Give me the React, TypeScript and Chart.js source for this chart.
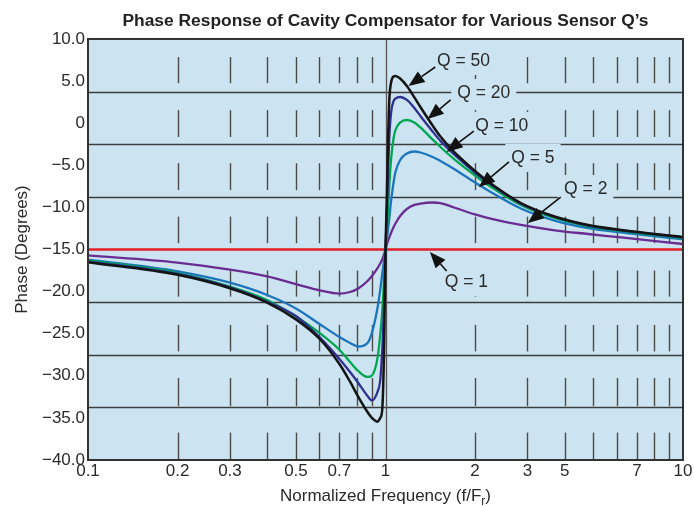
import React, { useEffect, useRef } from "react";
import { Chart, registerables } from "chart.js";

Chart.register(...registerables);

// ---------- data ----------
const freq = [0.1, 0.2, 0.3, 0.4, 0.5, 0.6, 0.7, 0.76, 0.81, 0.87, 0.9, 0.94, 0.96, 0.975, 0.99, 1.0, 1.01, 1.02, 1.03, 1.045, 1.065, 1.08, 1.12, 1.18, 1.25, 1.31, 1.44, 1.53, 1.7, 2.0, 2.2, 2.85, 3.7, 4.8, 6.2, 10];

const phaseQ50 = [-16.5, -18.0, -19.6, -21.3, -23.3, -25.6, -28.6, -30.7, -32.5, -34.3, -35.0, -35.45, -35.0, -34.0, -26.0, -15.0, -9.1, -2.0, 2.76, 4.9, 5.55, 5.61, 5.31, 4.42, 3.06, 1.92, -0.28, -1.59, -3.42, -5.68, -6.87, -9.48, -11.08, -12.09, -12.68, -13.52];
const phaseQ20 = [-16.4, -17.9, -19.5, -21.2, -22.9, -25.4, -28.0, -29.55, -30.85, -32.4, -32.93, -31.9, -30.5, -26.9, -21.0, -15.0, -10.9, -5.8, -1.64, 1.33, 2.64, 2.93, 3.11, 2.76, 1.8, 0.86, -0.99, -2.1, -3.7, -5.86, -7.0, -9.57, -11.14, -12.16, -12.74, -13.58];
const phaseQ10 = [-16.3, -17.8, -19.4, -21.0, -22.96, -24.9, -26.9, -28.36, -29.43, -30.14, -29.96, -27.9, -25.15, -22.4, -18.4, -15.0, -12.7, -10.07, -7.34, -4.13, -1.76, -0.81, 0.08, 0.38, 0.08, -0.51, -1.94, -2.83, -4.26, -6.21, -7.28, -9.71, -11.26, -12.24, -12.8, -13.67];
const phaseQ5 = [-16.2, -17.6, -18.94, -20.4, -22.0, -23.85, -25.4, -26.1, -26.52, -26.1, -24.9, -21.95, -19.8, -17.9, -16.13, -15.0, -13.87, -12.57, -11.26, -9.12, -6.98, -5.8, -4.37, -3.6, -3.36, -3.48, -4.01, -4.49, -5.44, -7.04, -7.93, -10.13, -11.56, -12.45, -12.98, -13.81];
const phaseQ2 = [-15.7, -16.55, -17.4, -18.2, -19.1, -19.85, -20.25, -20.05, -19.63, -18.74, -18.15, -17.2, -16.66, -16.19, -15.53, -15.0, -14.47, -13.99, -13.57, -12.98, -12.33, -11.91, -11.02, -10.19, -9.71, -9.54, -9.42, -9.48, -10.01, -10.84, -11.24, -12.09, -12.72, -13.16, -13.57, -14.35];
const freqQ1 = [0.1, 10];
const phaseQ1 = [-15, -15];

const xTickValues = [0.1, 0.2, 0.3, 0.5, 0.7, 1, 2, 3, 4, 7, 10];
const xTickLabels = ["0.1", "0.2", "0.3", "0.5", "0.7", "1", "2", "3", "5", "7", "10"];
const minorFreqs = [0.2, 0.3, 0.4, 0.5, 0.6, 0.7, 0.8, 0.9, 2, 3, 4, 5, 6, 7, 8, 9];
const gridLevels = [3.75, -2.5, -8.75, -21.25, -27.5, -33.75];
const segTop = [7.85, 1.55, -4.75, -11.1, -17.5, -23.95, -30.25, -36.75];
const segBottom = [4.75, -1.65, -7.95, -14.25, -20.6, -27.1, -33.6, -40];

const annotLabels = ["Q = 50", "Q = 20", "Q = 10", "Q = 5", "Q = 2", "Q = 1"];
const annotTextF = [1.83, 2.14, 2.46, 3.13, 4.71, 1.87];
const annotTextY = [7.5, 3.7, -0.2, -4.0, -7.7, -18.75];
const arrowTailF = [1.47, 1.655, 1.98, 2.6, 3.88, 1.605];
const arrowTailY = [6.67, 2.76, -0.93, -4.6, -8.77, -17.55];
const arrowTipF = [1.195, 1.385, 1.605, 2.06, 3.01, 1.41];
const arrowTipY = [4.42, 0.5, -3.42, -7.58, -11.85, -15.3];

const titleText = "Phase Response of Cavity Compensator for Various Sensor Q\u2019s";
const FONT = "'Liberation Sans', Arial, Helvetica, sans-serif";
const BG = "#cce4f1";
const TEXT = "#2a2a2a";

const toPts = (xs: number[], ys: number[]) => xs.map((x, i) => ({ x, y: ys[i] }));

const decorPlugin = {
  id: "decor",
  beforeDatasetsDraw(chart: any) {
    const { ctx, chartArea: a, scales } = chart;
    const xs = scales.x;
    const ys = scales.y;
    ctx.save();
    ctx.fillStyle = BG;
    ctx.fillRect(a.left, a.top, a.right - a.left, a.bottom - a.top);
    ctx.strokeStyle = "#3c3c3c";
    ctx.lineWidth = 1.4;
    gridLevels.forEach((v) => {
      const y = Math.round(ys.getPixelForValue(v)) + 0.5;
      ctx.beginPath();
      ctx.moveTo(a.left, y);
      ctx.lineTo(a.right, y);
      ctx.stroke();
    });
    ctx.strokeStyle = "#4a4a4a";
    ctx.lineWidth = 1.4;
    minorFreqs.forEach((f) => {
      const x = Math.round(xs.getPixelForValue(f)) + 0.5;
      segTop.forEach((t, i) => {
        ctx.beginPath();
        ctx.moveTo(x, ys.getPixelForValue(t));
        ctx.lineTo(x, ys.getPixelForValue(segBottom[i]));
        ctx.stroke();
      });
    });
    const x1 = Math.round(xs.getPixelForValue(1)) + 0.5;
    ctx.strokeStyle = "#555";
    ctx.lineWidth = 1.3;
    ctx.beginPath();
    ctx.moveTo(x1, a.top);
    ctx.lineTo(x1, a.bottom);
    ctx.stroke();
    ctx.restore();
  },
  afterDatasetsDraw(chart: any) {
    const { ctx, chartArea: a, scales } = chart;
    const xs = scales.x;
    const ys = scales.y;
    ctx.save();
    ctx.strokeStyle = "#333";
    ctx.lineWidth = 2;
    ctx.strokeRect(a.left, a.top, a.right - a.left, a.bottom - a.top);
    ctx.font = `17.5px ${FONT}`;
    ctx.textAlign = "center";
    ctx.textBaseline = "middle";
    annotLabels.forEach((lab, i) => {
      const cx = xs.getPixelForValue(annotTextF[i]);
      const cy = ys.getPixelForValue(annotTextY[i]);
      const w = ctx.measureText(lab).width;
      ctx.fillStyle = BG;
      ctx.fillRect(cx - w / 2 - 6, cy - 13, w + 12, 28);
      ctx.fillStyle = TEXT;
      ctx.fillText(lab, cx, cy + 1);
      const tx = xs.getPixelForValue(arrowTailF[i]);
      const ty = ys.getPixelForValue(arrowTailY[i]);
      const hx = xs.getPixelForValue(arrowTipF[i]);
      const hy = ys.getPixelForValue(arrowTipY[i]);
      const ang = Math.atan2(hy - ty, hx - tx);
      const hl = 16;
      const hw = 6.5;
      const bx = hx - hl * Math.cos(ang);
      const by = hy - hl * Math.sin(ang);
      ctx.strokeStyle = "#111";
      ctx.lineWidth = 1.6;
      ctx.beginPath();
      ctx.moveTo(tx, ty);
      ctx.lineTo(bx, by);
      ctx.stroke();
      ctx.fillStyle = "#111";
      ctx.beginPath();
      ctx.moveTo(hx, hy);
      ctx.lineTo(bx + hw * Math.sin(ang), by - hw * Math.cos(ang));
      ctx.lineTo(bx - hw * Math.sin(ang), by + hw * Math.cos(ang));
      ctx.closePath();
      ctx.fill();
    });
    ctx.restore();
  },
  afterDraw(chart: any) {
    const { ctx, chartArea: a } = chart;
    ctx.save();
    ctx.fillStyle = TEXT;
    ctx.textBaseline = "alphabetic";
    ctx.textAlign = "left";
    const mainFont = `17px ${FONT}`;
    const subFont = `12px ${FONT}`;
    const p1 = "Normalized Frequency (f/F";
    const p2 = "r";
    const p3 = ")";
    ctx.font = mainFont;
    const w1 = ctx.measureText(p1).width;
    const w3 = ctx.measureText(p3).width;
    ctx.font = subFont;
    const w2 = ctx.measureText(p2).width;
    const total = w1 + w2 + w3;
    const cx = (a.left + a.right) / 2;
    let x = cx - total / 2;
    const base = 501;
    ctx.font = mainFont;
    ctx.fillText(p1, x, base);
    x += w1;
    ctx.font = subFont;
    ctx.fillText(p2, x, base + 4);
    x += w2;
    ctx.font = mainFont;
    ctx.fillText(p3, x, base);
    ctx.restore();
  },
};

export default function App() {
  const ref = useRef<HTMLCanvasElement | null>(null);
  useEffect(() => {
    document.body.style.margin = "0";
    if (!ref.current) return;
    const tickFont = { family: FONT, size: 17 };
    const chart = new Chart(ref.current, {
      type: "line",
      data: {
        datasets: [
          { label: "Q = 50", data: toPts(freq, phaseQ50), borderColor: "#141414", borderWidth: 2.5 },
          { label: "Q = 20", data: toPts(freq, phaseQ20), borderColor: "#2e3192", borderWidth: 2.3 },
          { label: "Q = 10", data: toPts(freq, phaseQ10), borderColor: "#00a651", borderWidth: 2.3 },
          { label: "Q = 5", data: toPts(freq, phaseQ5), borderColor: "#1c75bc", borderWidth: 2.3 },
          { label: "Q = 2", data: toPts(freq, phaseQ2), borderColor: "#6a2c91", borderWidth: 2.3 },
          { label: "Q = 1", data: toPts(freqQ1, phaseQ1), borderColor: "#e31e25", borderWidth: 2.6 },
        ],
      },
      options: {
        animation: false,
        responsive: true,
        maintainAspectRatio: false,
        layout: { padding: { left: 0, right: 11, top: 0, bottom: 0 } },
        elements: {
          point: { radius: 0 },
          line: { cubicInterpolationMode: "monotone", fill: false },
        },
        plugins: {
          legend: { display: false },
          tooltip: { enabled: false },
          title: {
            display: true,
            text: titleText,
            fullSize: false,
            color: "#222",
            font: { family: FONT, size: 17.4, weight: "bold" },
            padding: { top: 11, bottom: 7.1 },
          },
        },
        scales: {
          x: {
            type: "logarithmic",
            min: 0.1,
            max: 10,
            grid: { display: false, drawTicks: false },
            border: { display: false },
            afterBuildTicks: (s: any) => {
              s.ticks = xTickValues.map((v) => ({ value: v }));
            },
            afterFit: (s: any) => {
              s.height = 46;
            },
            ticks: {
              autoSkip: false,
              maxRotation: 0,
              padding: 1,
              color: TEXT,
              font: tickFont,
              callback: (v: any) => {
                const i = xTickValues.indexOf(Number(v));
                return i >= 0 ? xTickLabels[i] : "";
              },
            },
          },
          y: {
            min: -40,
            max: 10,
            grid: { display: false, drawTicks: false },
            border: { display: false },
            afterFit: (s: any) => {
              s.width = 88;
            },
            ticks: {
              stepSize: 5,
              padding: 3,
              color: TEXT,
              font: tickFont,
              callback: (v: any) => {
                const n = Number(v);
                if (n === 0) return "0";
                return n < 0 ? "\u2212" + Math.abs(n).toFixed(1) : n.toFixed(1);
              },
            },
            title: {
              display: true,
              text: "Phase (Degrees)",
              color: TEXT,
              font: { family: FONT, size: 17 },
              padding: { top: 12, bottom: 0 },
            },
          },
        },
      },
      plugins: [decorPlugin],
    } as any);
    return () => chart.destroy();
  }, []);
  return (
    <div style={{ position: "relative", width: 694, height: 506 }}>
      <canvas ref={ref} />
    </div>
  );
}
